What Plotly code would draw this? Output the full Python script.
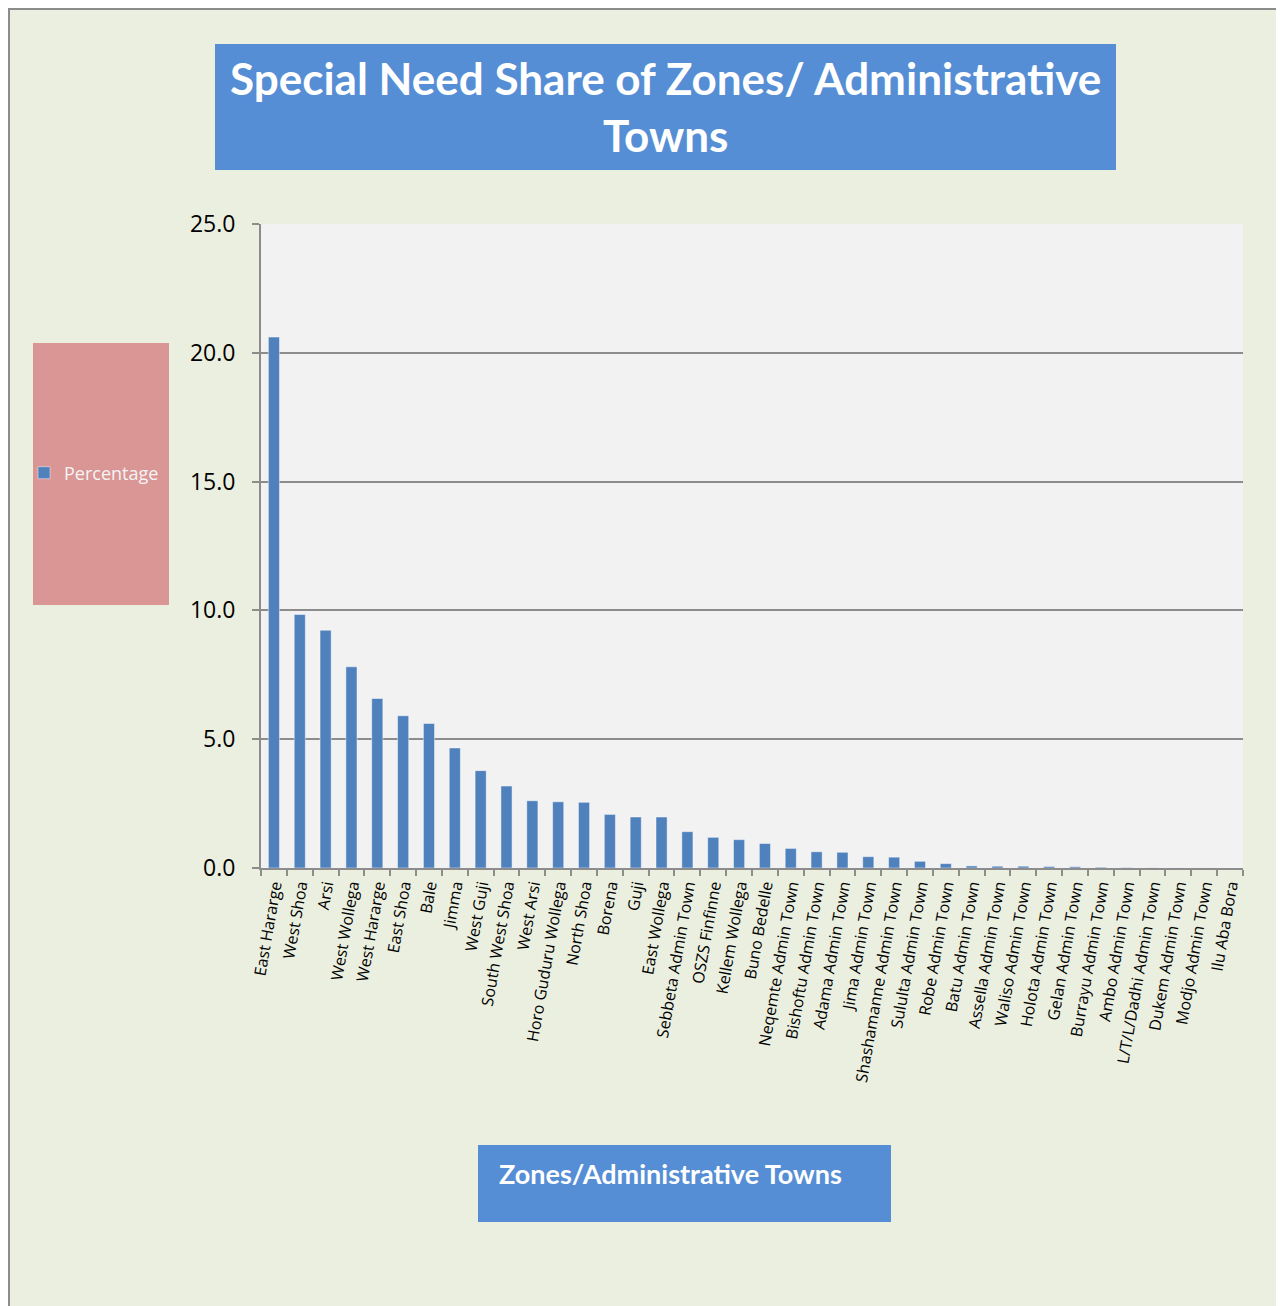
import plotly.graph_objects as go

# Zones / administrative towns and their share (%) of special need students
zones = [
    "East Hararge", "West Shoa", "Arsi", "West Wollega", "West Hararge",
    "East Shoa", "Bale", "Jimma", "West Guji", "South West Shoa",
    "West Arsi", "Horo Guduru Wollega", "North Shoa", "Borena", "Guji",
    "East Wollega", "Sebbeta Admin Town", "OSZS Finfinne", "Kellem Wollega",
    "Buno Bedelle", "Neqemte Admin Town", "Bishoftu Admin Town",
    "Adama Admin Town", "Jima Admin Town", "Shashamanne Admin Town",
    "Sululta Admin Town", "Robe Admin Town", "Batu Admin Town",
    "Assella Admin Town", "Waliso Admin Town", "Holota Admin Town",
    "Gelan Admin Town", "Burrayu Admin Town", "Ambo Admin Town",
    "L/T/L/Dadhi Admin Town", "Dukem Admin Town", "Modjo Admin Town",
    "Ilu Aba Bora",
]
percentage = [
    20.61, 9.84, 9.23, 7.81, 6.58, 5.91, 5.61, 4.66, 3.78, 3.18,
    2.61, 2.57, 2.55, 2.08, 1.98, 1.98, 1.41, 1.19, 1.10, 0.95,
    0.76, 0.63, 0.61, 0.44, 0.42, 0.26, 0.17, 0.08, 0.07, 0.07,
    0.06, 0.05, 0.03, 0.02, 0.01, 0.005, 0.003, 0.002,
]
y_ticks = [0, 5, 10, 15, 20, 25]

W, H = 1284, 1306
OFF = 8  # page margin around the figure
# plot area in screen pixels: x 261..1243, y 224..868
ML, MT = 261 - OFF, 224 - OFF
MR, MB = W - (1243 - OFF), H - (868 - OFF)
PW, PH = W - ML - MR, H - MT - MB

BG = "#EBEFDF"
BLUE_BOX = "#558ED5"
PINK_BOX = "#D99694"
GRID = "#8C8C8C"


def px_x(p):
    return (p - OFF - ML) / PW


def px_y(p):
    return (H - MB - (p - OFF)) / PH


def box(x0, y0, x1, y1, color):
    return dict(type="rect", xref="paper", yref="paper",
                x0=px_x(x0), x1=px_x(x1), y0=px_y(y0), y1=px_y(y1),
                fillcolor=color, line=dict(width=0), layer="below")


fig = go.Figure()
fig.add_trace(go.Bar(
    x=zones, y=percentage, name="Percentage",
    marker=dict(color="#4F81BD", line=dict(color="rgba(255,255,255,0.45)", width=1)),
))

shapes = [
    # chart border
    dict(type="line", xref="paper", yref="paper",
         x0=px_x(OFF), x1=px_x(W + OFF), y0=px_y(OFF + 1), y1=px_y(OFF + 1),
         line=dict(color=GRID, width=2), layer="below"),
    dict(type="line", xref="paper", yref="paper",
         x0=px_x(OFF + 1), x1=px_x(OFF + 1), y0=px_y(OFF), y1=px_y(H + OFF),
         line=dict(color=GRID, width=2), layer="below"),
    # title box, legend box, axis title box
    box(215, 44, 1116, 170, BLUE_BOX),
    box(33, 343, 169, 605, PINK_BOX),
    box(478, 1145, 891, 1222, BLUE_BOX),
]

annotations = [
    dict(text="Special Need Share of Zones/ Administrative<br>Towns",
         xref="paper", yref="paper", x=px_x(665), y=px_y(106),
         xanchor="center", yanchor="middle", showarrow=False,
         font=dict(family="Lato", size=44, color="white", weight="bold")),
    dict(text="Zones/Administrative Towns",
         xref="paper", yref="paper", x=px_x(497), y=px_y(1173),
         xanchor="left", yanchor="middle", showarrow=False,
         font=dict(family="Lato", size=27, color="white", weight="bold")),
]

fig.update_layout(
    width=W, height=H,
    margin=dict(l=ML, r=MR, t=MT, b=MB, pad=0),
    paper_bgcolor=BG,
    plot_bgcolor="#F2F2F2",
    bargap=0.57,
    shapes=shapes,
    annotations=annotations,
    showlegend=True,
    legend=dict(x=px_x(24), y=px_y(473), xanchor="left", yanchor="middle",
                bgcolor="rgba(0,0,0,0)",
                font=dict(family="Open Sans", size=18, color="#F4F4F4")),
    font=dict(family="Open Sans", color="black"),
)

fig.update_xaxes(
    type="category", tickangle=-80, tickson="boundaries",
    ticks="outside", ticklen=6, tickcolor=GRID, tickwidth=2,
    showline=True, linecolor=GRID, linewidth=2,
    showgrid=False, tickfont=dict(family="Open Sans", size=16),
)
fig.update_yaxes(
    range=[0, 25], tickvals=y_ticks, tickformat=".1f",
    ticks="outside", ticklen=7, tickcolor=GRID, tickwidth=2,
    ticklabelstandoff=12,
    showline=True, linecolor=GRID, linewidth=2,
    showgrid=True, gridcolor=GRID, gridwidth=2, zeroline=False,
    tickfont=dict(family="Open Sans", size=23),
)

fig.write_html("out.html")
